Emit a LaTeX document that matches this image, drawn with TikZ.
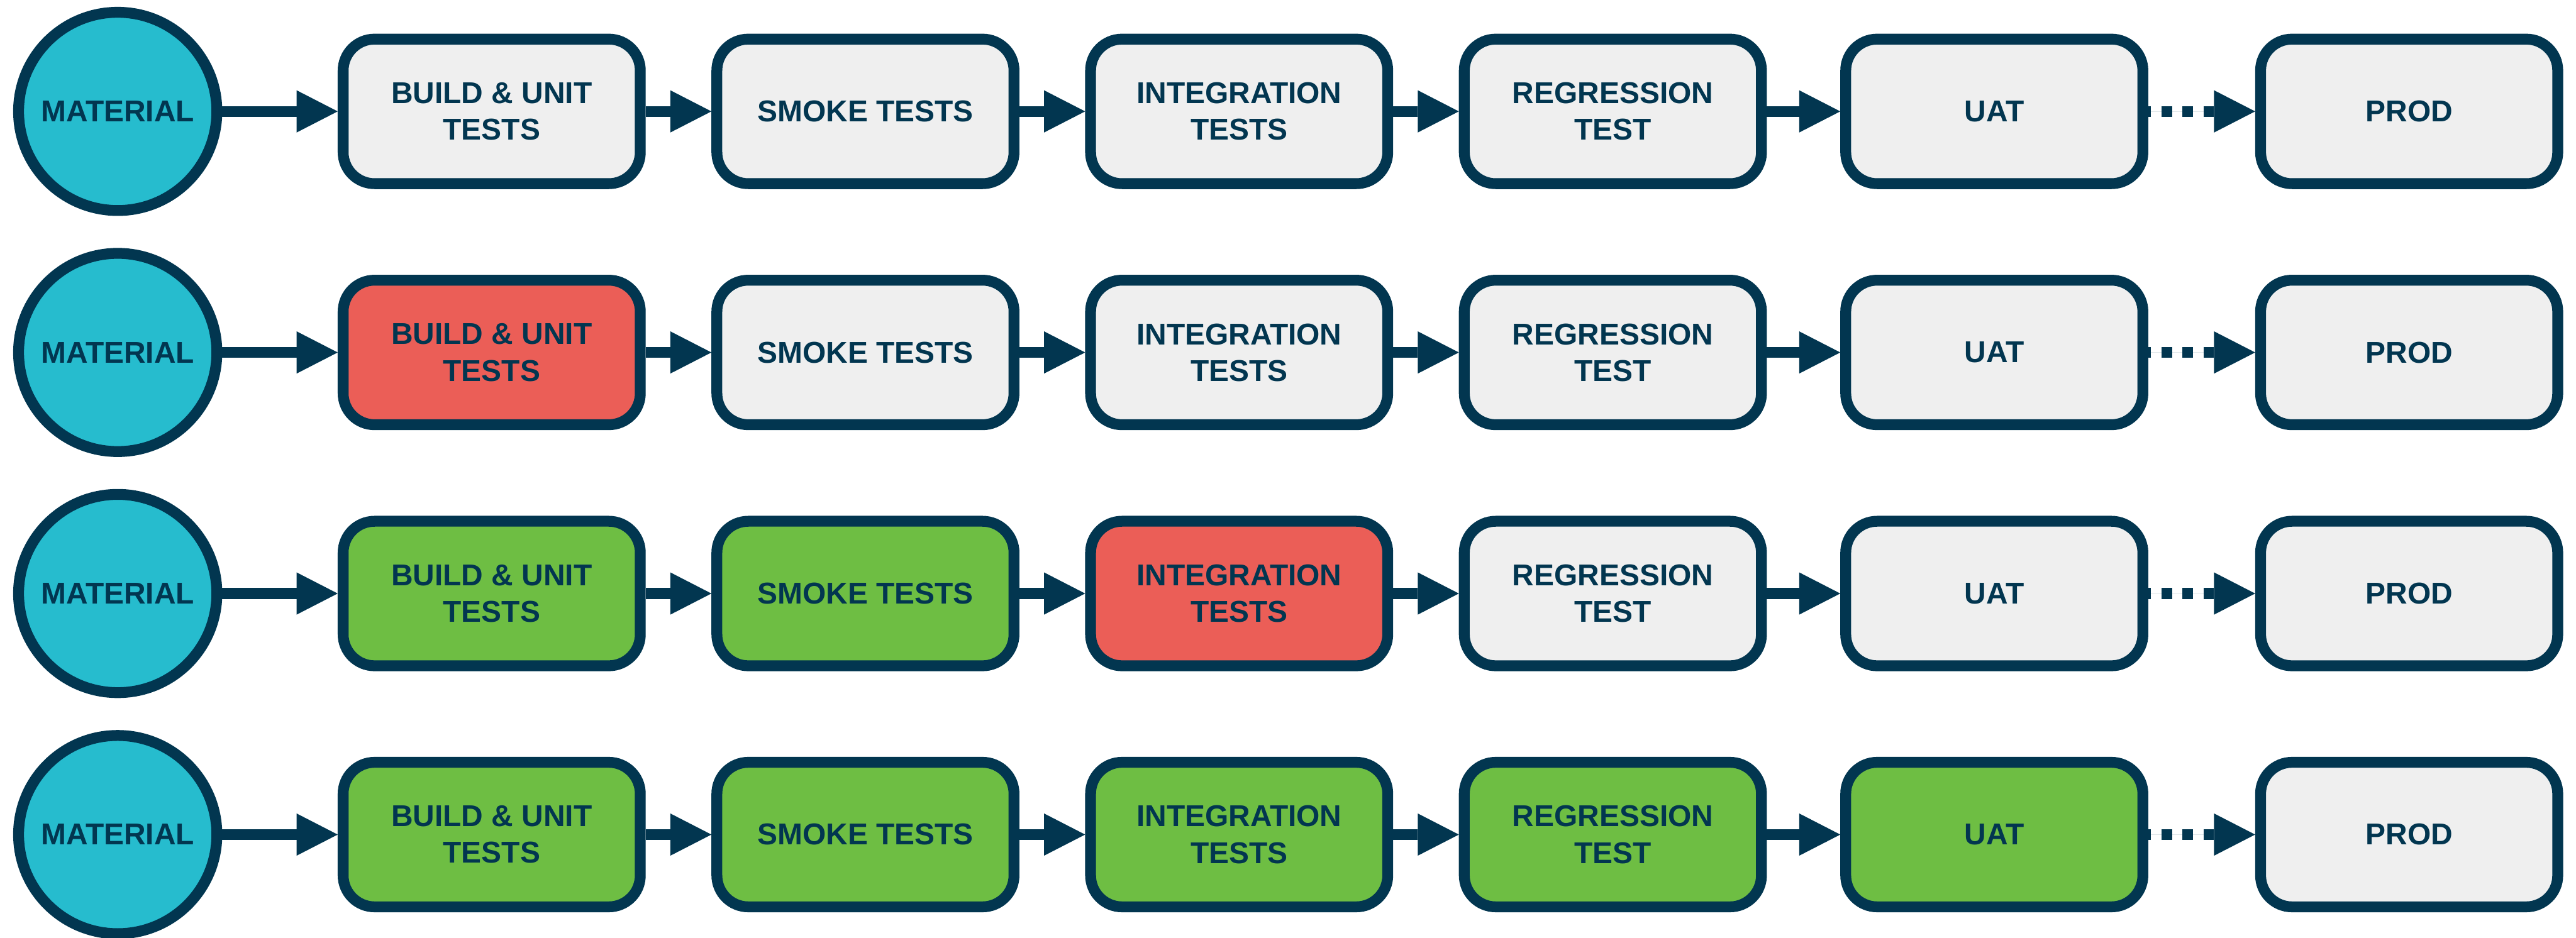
\documentclass[tikz,border=0pt]{standalone}
\usepackage{fontspec}
\setmainfont{Liberation Sans}
\usetikzlibrary{arrows.meta}
\definecolor{pipeNavy}{HTML}{023650}
\definecolor{pipeTeal}{HTML}{26BCCE}
\definecolor{pipeGrey}{HTML}{EFEFEF}
\definecolor{pipeRed}{HTML}{EB5E57}
\definecolor{pipeGreen}{HTML}{6EBE43}
\tikzset{
  pipeArrow/.style={-{Triangle[length=7.2mm, width=7.4mm, line width=0pt]}, line width=1.9mm, draw=pipeNavy, fill=pipeNavy},
  pipeDottedArrow/.style={pipeArrow, dash pattern=on 1.84mm off 1.86mm, dash phase=1.4mm}
}

\begin{document}
\begin{tikzpicture}[
        source/.style={circle, draw=pipeNavy, line width=1.9mm, fill=pipeTeal, minimum size=34.7mm, inner sep=0pt, text=pipeNavy, font=\bfseries\fontsize{15}{18.2}\selectfont},
        stage/.style={draw=pipeNavy, line width=1.9mm, rounded corners=5.5mm, fill=pipeGrey, minimum width=52mm, minimum height=25.3mm, inner sep=0pt, align=center, text=pipeNavy, font=\bfseries\fontsize{15}{18.2}\selectfont},
        failed/.style={stage, fill=pipeRed},
        passed/.style={stage, fill=pipeGreen}
      ]
      \useasboundingbox (0,0) rectangle (45.08,-16.42);

      % nothing run yet
      \node[source] (materialA) at (2.06,-1.95) {MATERIAL};
      \node[stage] (buildA) at (8.605,-1.95) {BUILD \& UNIT\\TESTS};
      \node[stage] (smokeA) at (15.145,-1.95) {SMOKE TESTS};
      \node[stage] (integA) at (21.685,-1.95) {INTEGRATION\\TESTS};
      \node[stage] (regrA) at (28.225,-1.95) {REGRESSION\\TEST};
      \node[stage] (uatA) at (34.90,-1.95) {UAT};
      \node[stage] (prodA) at (42.16,-1.95) {PROD};
      \draw[pipeArrow] (materialA) -- (buildA);
      \draw[pipeArrow] (buildA) -- (smokeA);
      \draw[pipeArrow] (smokeA) -- (integA);
      \draw[pipeArrow] (integA) -- (regrA);
      \draw[pipeArrow] (regrA) -- (uatA);
      \draw[pipeDottedArrow] (uatA) -- (prodA);

      % build breaks
      \node[source] (materialB) at (2.06,-6.17) {MATERIAL};
      \node[failed] (buildB) at (8.605,-6.17) {BUILD \& UNIT\\TESTS};
      \node[stage] (smokeB) at (15.145,-6.17) {SMOKE TESTS};
      \node[stage] (integB) at (21.685,-6.17) {INTEGRATION\\TESTS};
      \node[stage] (regrB) at (28.225,-6.17) {REGRESSION\\TEST};
      \node[stage] (uatB) at (34.90,-6.17) {UAT};
      \node[stage] (prodB) at (42.16,-6.17) {PROD};
      \draw[pipeArrow] (materialB) -- (buildB);
      \draw[pipeArrow] (buildB) -- (smokeB);
      \draw[pipeArrow] (smokeB) -- (integB);
      \draw[pipeArrow] (integB) -- (regrB);
      \draw[pipeArrow] (regrB) -- (uatB);
      \draw[pipeDottedArrow] (uatB) -- (prodB);

      % integration breaks
      \node[source] (materialC) at (2.06,-10.39) {MATERIAL};
      \node[passed] (buildC) at (8.605,-10.39) {BUILD \& UNIT\\TESTS};
      \node[passed] (smokeC) at (15.145,-10.39) {SMOKE TESTS};
      \node[failed] (integC) at (21.685,-10.39) {INTEGRATION\\TESTS};
      \node[stage] (regrC) at (28.225,-10.39) {REGRESSION\\TEST};
      \node[stage] (uatC) at (34.90,-10.39) {UAT};
      \node[stage] (prodC) at (42.16,-10.39) {PROD};
      \draw[pipeArrow] (materialC) -- (buildC);
      \draw[pipeArrow] (buildC) -- (smokeC);
      \draw[pipeArrow] (smokeC) -- (integC);
      \draw[pipeArrow] (integC) -- (regrC);
      \draw[pipeArrow] (regrC) -- (uatC);
      \draw[pipeDottedArrow] (uatC) -- (prodC);

      % green up to UAT
      \node[source] (materialD) at (2.06,-14.61) {MATERIAL};
      \node[passed] (buildD) at (8.605,-14.61) {BUILD \& UNIT\\TESTS};
      \node[passed] (smokeD) at (15.145,-14.61) {SMOKE TESTS};
      \node[passed] (integD) at (21.685,-14.61) {INTEGRATION\\TESTS};
      \node[passed] (regrD) at (28.225,-14.61) {REGRESSION\\TEST};
      \node[passed] (uatD) at (34.90,-14.61) {UAT};
      \node[stage] (prodD) at (42.16,-14.61) {PROD};
      \draw[pipeArrow] (materialD) -- (buildD);
      \draw[pipeArrow] (buildD) -- (smokeD);
      \draw[pipeArrow] (smokeD) -- (integD);
      \draw[pipeArrow] (integD) -- (regrD);
      \draw[pipeArrow] (regrD) -- (uatD);
      \draw[pipeDottedArrow] (uatD) -- (prodD);
    \end{tikzpicture}
\end{document}
